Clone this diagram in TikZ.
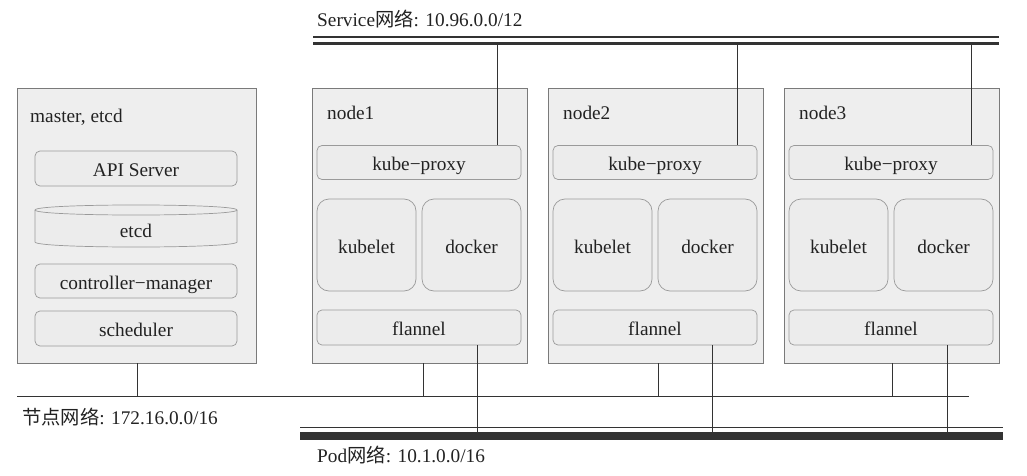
\documentclass[tikz,border=0pt]{standalone}
\usepackage{fontspec}
\setmainfont{Liberation Serif}
\newfontfamily\cjk{Noto Sans CJK SC}
\definecolor{outerfill}{HTML}{EEEEEE}
\definecolor{outerline}{HTML}{7A7A7A}
\definecolor{innerfill}{HTML}{ECECEC}
\definecolor{innerline}{HTML}{9A9A9A}
\definecolor{linec}{HTML}{333333}
\definecolor{textc}{HTML}{222222}
\newcommand{\mainfs}{\fontsize{19.3}{23}\selectfont}
\begin{document}
\begin{tikzpicture}[x=1pt,y=-1pt,
  outerbox/.style={draw=outerline, fill=outerfill, line width=0.8pt, inner sep=0pt, minimum height=275pt},
  innerbox/.style={draw=innerline, fill=innerfill, line width=0.7pt, rounded corners=5pt, inner sep=0pt, font=\mainfs, text=textc, text height=16pt, text depth=0pt},
  bigbox/.style={innerbox, rounded corners=12pt, minimum width=99pt, minimum height=92pt},
  lbl/.style={font=\mainfs, text=textc, inner sep=0pt, anchor=base west},
  net/.style={draw=linec, line width=1pt},
  drop/.style={draw=linec, line width=0.9pt}]
\useasboundingbox (0,0) rectangle (1027,476);

% master box
\node[outerbox, minimum width=239pt] (m) at (136.5,225.5) {};
\node[lbl] (mlabel) at (30,122.5) {master, etcd};
\node[innerbox, minimum width=202pt, minimum height=35pt] (api) at (136,168.5) {API Server};
\fill[innerfill] (35,210) -- (35,242) .. controls (35,248.7) and (237,248.7) .. (237,242) -- (237,210) -- cycle;
\draw[innerline, line width=0.7pt] (35,210) -- (35,242) .. controls (35,248.7) and (237,248.7) .. (237,242) -- (237,210);
\draw[innerline, line width=0.7pt, fill=innerfill] (35,210) .. controls (35,203.3) and (237,203.3) .. (237,210) .. controls (237,216.7) and (35,216.7) .. (35,210) -- cycle;
\node[font=\mainfs, text=textc, inner sep=0pt, anchor=base] (etcd) at (136,237.5) {etcd};
\node[innerbox, minimum width=202pt, minimum height=34pt] (cm) at (136,281) {controller−manager};
\node[innerbox, minimum width=202pt, minimum height=35pt] (sch) at (136,328.5) {scheduler};

% worker nodes
\foreach \i/\x in {1/312,2/548,3/784}{
  \node[outerbox, minimum width=215pt] (n\i) at (\x+107.5,225.5) {};
  \node[lbl] (nl\i) at (\x+15,120) {node\i};
  \node[innerbox, minimum width=204pt, minimum height=34pt] (kp\i) at (\x+107,162.5) {kube−proxy};
  \node[bigbox] (kl\i) at (\x+54.5,245) {kubelet};
  \node[bigbox] (dk\i) at (\x+159.5,245) {docker};
  \node[innerbox, minimum width=204pt, minimum height=35pt] (fl\i) at (\x+107,327.5) {flannel};
}

% service network
\coordinate (svA) at (313,37);
\coordinate (svB) at (999,37);
\coordinate (svC) at (313,43.5);
\coordinate (svD) at (999,43.5);
\draw[linec, line width=2.6pt] (svA) -- (svB);
\draw[linec, line width=3.6pt] (svC) -- (svD);
\node[lbl] (svlabel) at (317,27) {Service{\cjk 网络}: 10.96.0.0/12};
\coordinate (s1) at (497,45);
\coordinate (s2) at (737,45);
\coordinate (s3) at (971,45);
\foreach \i in {1,2,3}{
  \draw[drop] (s\i) -- (kp\i.north -| s\i);
}

% node network
\coordinate (nnL) at (17,396);
\coordinate (nnR) at (969,396);
\draw[net] (nnL) -- (nnR);
\node[lbl] (nnlabel) at (22,424.5) {{\cjk 节点网络}: 172.16.0.0/16};
\coordinate (d0) at (137,396);
\coordinate (d1) at (423,396);
\coordinate (d2) at (658,396);
\coordinate (d3) at (892,396);
\draw[drop] (m.south -| d0) -- (d0);
\foreach \i in {1,2,3}{
  \draw[drop] (n\i.south -| d\i) -- (d\i);
}

% pod network
\coordinate (pA) at (300,427.5);
\coordinate (pB) at (1003,427.5);
\coordinate (pC) at (300,436);
\coordinate (pD) at (1003,436);
\draw[linec, line width=1.6pt] (pA) -- (pB);
\draw[linec, line width=8pt] (pC) -- (pD);
\node[lbl] (podlabel) at (317,462.5) {Pod{\cjk 网络}: 10.1.0.0/16};
\coordinate (p1) at (477,432);
\coordinate (p2) at (712,432);
\coordinate (p3) at (947,432);
\foreach \i in {1,2,3}{
  \draw[drop] (fl\i.south -| p\i) -- (p\i);
}
\end{tikzpicture}
\end{document}
